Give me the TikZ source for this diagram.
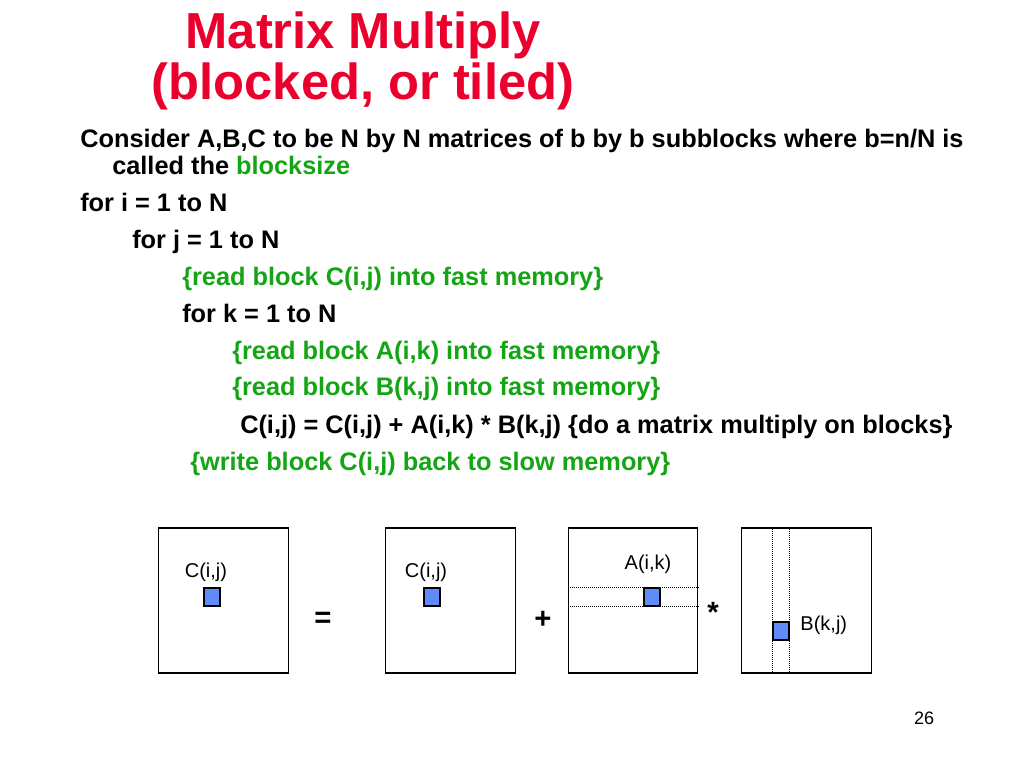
\documentclass[tikz,border=0pt]{standalone}
\usepackage{fontspec}
\setmainfont{Liberation Sans}
\usepackage{xcolor}
\usetikzlibrary{positioning}
\definecolor{titlered}{RGB}{235,0,45}
\definecolor{codegreen}{RGB}{20,165,20}
\definecolor{blockblue}{RGB}{95,140,250}
\tikzstyle{mat} = [draw, line width=0.8pt, minimum width=97pt,
minimum height=108.75pt, inner sep=0pt]
\tikzstyle{guide} = [densely dotted, line width=0.5pt]

\begin{document}
\begin{tikzpicture}[x=0.75pt, y=-0.75pt,
      blk/.style={draw, line width=0.8pt, fill=blockblue,
      minimum width=12pt, minimum height=13.5pt, inner sep=0pt},
      lbl/.style={inner sep=0pt, font=\fontsize{15}{18}\selectfont},
      code/.style={anchor=base west, inner sep=0pt,
      font=\fontsize{19}{23}\selectfont\bfseries},
      cmt/.style={code, text=codegreen},
      op/.style={inner sep=0pt, font=\fontsize{22}{26}\selectfont\bfseries}]
    \useasboundingbox (0,0) rectangle (1024,768);
    %% Title
    \node [inner sep=0pt, anchor=base, text=titlered,
      font=\fontsize{38}{44}\selectfont\bfseries] (T1) at (363,48) {Matrix Multiply};
    \node [inner sep=0pt, anchor=base, text=titlered,
      font=\fontsize{38}{44}\selectfont\bfseries] (T2) at (363,99) {(blocked, or tiled)};
    %% Text
    \node [code] (L1) at (80,147) {Consider A,B,C to be N by N matrices of b by b subblocks where b=n/N is};
    \node [code] (L2) at (112,174) {called the \textcolor{codegreen}{blocksize}};
    \node [code] (L3) at (80,211) {for i = 1 to N};
    \node [code] (L4) at (132,248) {for j = 1 to N};
    \node [cmt] (L5) at (182,285) {\{read block C(i,j) into fast memory\}};
    \node [code] (L6) at (182,322) {for k = 1 to N};
    \node [cmt] (L7) at (232,359) {\{read block A(i,k) into fast memory\}};
    \node [cmt] (L8) at (232,395) {\{read block B(k,j) into fast memory\}};
    \node [code] (L9) at (240,433) {C(i,j) = C(i,j) + A(i,k) * B(k,j) \{do a matrix multiply on blocks\}};
    \node [cmt] (L10) at (190,470) {\{write block C(i,j) back to slow memory\}};
    %% Matrices
    \node [mat] (M1) at (223.5,600.5) {};
    \node [mat, right=72.5pt of M1] (M2) {};
    \node [mat, right=39pt of M2] (M3) {};
    \node [mat, right=32.25pt of M3] (M4) {};
    %% Blocks
    \node [blk] (C1) at (212,597) {};
    \node [blk] (C2) at (432,597) {};
    \node [blk] (A) at (652,597) {};
    \node [blk] (B) at (781,631) {};
    \draw [guide] (M3.west |- A.north) -- (M3.east |- A.north);
    \draw [guide] (M3.west |- A.south) -- (M3.east |- A.south);
    \draw [guide] (B.west |- M4.north) -- (B.west |- M4.south);
    \draw [guide] (B.east |- M4.north) -- (B.east |- M4.south);
    \node [lbl, above=4pt of C1, xshift=-4.5pt] (LC1) {C(i,j)};
    \node [lbl, above=4pt of C2, xshift=-4.5pt] (LC2) {C(i,j)};
    \node [lbl, above=10pt of A, xshift=-3pt] (LA) {A(i,k)};
    \node [lbl, right=8pt of B, yshift=4.5pt] (LB) {B(k,j)};
    %% Operators
    \node [op] (eq) at (323,620) {=};
    \node [op] (plus) at (543,620) {+};
    \node [op] (times) at (713,612) {*};
    \node [inner sep=0pt, font=\fontsize{13.5}{16}\selectfont] (pg) at (924,718) {26};
  \end{tikzpicture}
\end{document}
